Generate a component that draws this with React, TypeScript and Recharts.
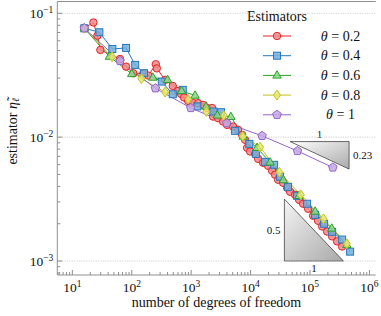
import React from "react";
import { LineChart, Line, XAxis, YAxis, ReferenceLine, ReferenceArea, Legend } from "recharts";

// number of degrees of freedom / estimator values per theta
const dof02 = [15.9, 22.6, 26.4, 29.6, 63.5, 80.2, 106, 157, 190, 254, 264, 364, 490, 601, 676, 759, 887, 1076, 1306, 1586, 1852, 2249, 2337, 2838, 3444, 4021, 5074, 6161, 7194, 8079, 8732, 9814, 11910, 13370, 16230, 19710, 23010, 25830, 29030, 35250, 41120, 46240, 56140, 65500, 76560, 92900, 112800, 136800, 159900, 194000, 235600, 285800, 346800];
const eta02 = [0.0757, 0.0843, 0.066, 0.0506, 0.0428, 0.0371, 0.0328, 0.0328, 0.0314, 0.0388, 0.0359, 0.029, 0.0259, 0.0236, 0.0223, 0.0209, 0.0196, 0.0189, 0.0188, 0.0182, 0.0172, 0.0172, 0.01466, 0.01422, 0.01336, 0.01256, 0.01218, 0.01146, 0.01044, 0.00951, 0.0082, 0.00766, 0.00733, 0.00668, 0.00621, 0.00587, 0.00535, 0.00497, 0.00453, 0.00428, 0.0039, 0.00362, 0.00343, 0.00312, 0.0029, 0.00264, 0.00232, 0.00211, 0.0019, 0.00173, 0.00158, 0.00144, 0.00131];

const dof04 = [15.9, 28.5, 47.1, 80.2, 114, 161, 320, 490, 722, 1271, 2365, 3187, 5483, 9550, 12380, 17540, 24880, 31390, 42760, 60670, 89340, 121900, 172700, 235600, 346800, 473200];
const eta04 = [0.0757, 0.0703, 0.0515, 0.0525, 0.0383, 0.0328, 0.0281, 0.0222, 0.0241, 0.0177, 0.0161, 0.0159, 0.01124, 0.00883, 0.00733, 0.00632, 0.00598, 0.00479, 0.00397, 0.00336, 0.0029, 0.00236, 0.002, 0.00172, 0.00149, 0.00119];

const dof06 = [15.9, 42, 100, 226, 401, 689, 1163, 1782, 2761, 4659, 7566, 12850, 21290, 35650, 65500, 121900, 232800, 416600];
const eta06 = [0.0757, 0.0447, 0.0324, 0.0303, 0.029, 0.0236, 0.0217, 0.0177, 0.015, 0.01459, 0.01011, 0.0082, 0.00626, 0.0045, 0.00336, 0.00251, 0.00183, 0.00135];

const dof08 = [15.9, 46.6, 145, 364, 897, 1803, 3540, 7392, 14450, 30550, 69980, 168200, 416600];
const eta08 = [0.0757, 0.0445, 0.0297, 0.0231, 0.0202, 0.0161, 0.0149, 0.01015, 0.0083, 0.0052, 0.00343, 0.00219, 0.00138];

const dof10 = [15.9, 63.5, 250, 985, 3975, 15620, 61380, 242100];
const eta10 = [0.0757, 0.0412, 0.0248, 0.0172, 0.01297, 0.01024, 0.00773, 0.00569];

const thetaLabels = ["0.2", "0.4", "0.6", "0.8", "1"];

// slope triangles
const slopeUpper = { x1: 46240, x2: 455000, y1: 0.00921, y2: 0.00552, rise: "0.23", run: "1" };
const slopeLower = { x1: 37070, x2: 364800, y1: 0.003162, y2: 0.001, rise: "0.5", run: "1" };

const Y_MAJOR = [0.001, 0.01, 0.1];
const X_DOMAIN = [5.58, 1276000];
const Y_DOMAIN = [0.000771, 0.1245];

const minorTicks = (lo: number, hi: number) => {
  const out: number[] = [];
  for (let e = -4; e <= 6; e++) {
    for (let m = 1; m <= 9; m++) {
      const v = m * Math.pow(10, e);
      if (v >= lo && v <= hi) out.push(v);
    }
  }
  return out;
};
const xTicks = minorTicks(X_DOMAIN[0], X_DOMAIN[1]);
const yTicks = minorTicks(Y_DOMAIN[0], Y_DOMAIN[1]);

const FONT = "'Liberation Serif', serif";
const AXIS = "#8f8f8f";
const INK = "#111";

const isMajor = (v: number) => Math.abs(Math.log10(v) - Math.round(Math.log10(v))) < 1e-6;
const expOf = (v: number) => {
  const e = Math.round(Math.log10(v));
  return e < 0 ? "\u2212" + Math.abs(e) : String(e);
};

const SERIES = [
  { dof: dof02, eta: eta02, shape: "circle", stroke: "#e0262b", fill: "#f2898b" },
  { dof: dof04, eta: eta04, shape: "square", stroke: "#2878bd", fill: "#74aedc" },
  { dof: dof06, eta: eta06, shape: "triangle", stroke: "#2ca02c", fill: "#8fd88f" },
  { dof: dof08, eta: eta08, shape: "diamond", stroke: "#c2c21f", fill: "#e8e872" },
  { dof: dof10, eta: eta10, shape: "pentagon", stroke: "#9466c6", fill: "#c3a8e4" },
];

function Marker({ shape, cx, cy, stroke, fill }: any) {
  const common = { stroke, fill, fillOpacity: 0.85, strokeWidth: 1 };
  if (cx == null || cy == null) return null;
  switch (shape) {
    case "circle":
      return <circle cx={cx} cy={cy} r={3.7} {...common} />;
    case "square":
      return <rect x={cx - 3.5} y={cy - 3.5} width={7} height={7} {...common} />;
    case "triangle":
      return <polygon points={`${cx},${cy - 4.7} ${cx - 4.2},${cy + 2.7} ${cx + 4.2},${cy + 2.7}`} {...common} />;
    case "diamond":
      return <polygon points={`${cx},${cy - 4.9} ${cx + 3.5},${cy} ${cx},${cy + 4.9} ${cx - 3.5},${cy}`} {...common} />;
    default: {
      const pts = [0, 1, 2, 3, 4]
        .map((k) => {
          const a = (-90 + 72 * k) * (Math.PI / 180);
          return `${cx + 4.5 * Math.cos(a)},${cy + 4.5 * Math.sin(a)}`;
        })
        .join(" ");
      return <polygon points={pts} {...common} />;
    }
  }
}

const BottomTick = ({ x, y, payload }: any) => {
  const major = isMajor(payload.value);
  return (
    <g>
      <line x1={x} x2={x} y1={y} y2={y - (major ? 5 : 3)} stroke={AXIS} />
      {major && (
        <text x={x} y={y + 17} textAnchor="middle" fontFamily={FONT} fontSize={13.5} fill={INK}>
          10<tspan dy={-5} fontSize={9.5}>{expOf(payload.value)}</tspan>
        </text>
      )}
    </g>
  );
};

const TopTick = ({ x, y, payload }: any) => {
  const major = isMajor(payload.value);
  return <line x1={x} x2={x} y1={y} y2={y + (major ? 5 : 3)} stroke={AXIS} />;
};

const LeftTick = ({ x, y, payload }: any) => {
  const major = isMajor(payload.value);
  return (
    <g>
      <line x1={x} x2={x + (major ? 5 : 3)} y1={y} y2={y} stroke={AXIS} />
      {major && (
        <text x={x - 4} y={y + 4.5} textAnchor="end" fontFamily={FONT} fontSize={13.5} fill={INK}>
          10<tspan dy={-5} fontSize={9.5}>{expOf(payload.value)}</tspan>
        </text>
      )}
    </g>
  );
};

const RightTick = ({ x, y, payload }: any) => {
  const major = isMajor(payload.value);
  return <line x1={x} x2={x - (major ? 5 : 3)} y1={y} y2={y} stroke={AXIS} />;
};

const UpperTriangle = ({ x, y, width, height }: any) => (
  <g>
    <defs>
      <linearGradient id="triUp" x1="0" y1="0" x2="1" y2="1">
        <stop offset="0%" stopColor="#ffffff" />
        <stop offset="100%" stopColor="#a9a9a9" />
      </linearGradient>
    </defs>
    <polygon points={`${x},${y} ${x + width},${y} ${x + width},${y + height}`} fill="url(#triUp)" stroke="#444" strokeWidth={0.8} />
    <text x={x + width / 2} y={y - 4} textAnchor="middle" fontFamily={FONT} fontSize={11} fill={INK}>{slopeUpper.run}</text>
    <text x={x + width + 4} y={y + height / 2 + 4} textAnchor="start" fontFamily={FONT} fontSize={11} fill={INK}>{slopeUpper.rise}</text>
  </g>
);

const LowerTriangle = ({ x, y, width, height }: any) => (
  <g>
    <defs>
      <linearGradient id="triLow" x1="0" y1="0" x2="1" y2="1">
        <stop offset="0%" stopColor="#f4f4f4" />
        <stop offset="100%" stopColor="#a9a9a9" />
      </linearGradient>
    </defs>
    <polygon points={`${x},${y} ${x},${y + height} ${x + width},${y + height}`} fill="url(#triLow)" stroke="#444" strokeWidth={0.8} />
    <text x={x - 4} y={y + height / 2 + 4} textAnchor="end" fontFamily={FONT} fontSize={11} fill={INK}>{slopeLower.rise}</text>
    <text x={x + width / 2} y={y + height + 11} textAnchor="middle" fontFamily={FONT} fontSize={11} fill={INK}>{slopeLower.run}</text>
  </g>
);

const LegendBox = () => (
  <svg width={136} height={125} style={{ display: "block" }}>
    <text x={32} y={21} textAnchor="middle" fontFamily={FONT} fontSize={14} fill={INK}>Estimators</text>
    {SERIES.map((s, i) => {
      const cy = 36 + i * 19.7;
      return (
        <g key={i}>
          <line x1={18} x2={46} y1={cy} y2={cy} stroke={s.stroke} strokeWidth={1} />
          <Marker shape={s.shape} cx={32} cy={cy} stroke={s.stroke} fill={s.fill} />
          <text x={95.5} y={cy + 4.5} textAnchor="middle" fontFamily={FONT} fontSize={14} fill={INK}>
            <tspan fontStyle="italic">θ</tspan>
            <tspan dx={3.5}>=</tspan>
            <tspan dx={3.5}>{thetaLabels[i]}</tspan>
          </text>
        </g>
      );
    })}
  </svg>
);

const YLabel = ({ viewBox }: any) => {
  const cx = (viewBox?.x ?? 0) + 12;
  const cy = (viewBox?.y ?? 0) + (viewBox?.height ?? 0) / 2 - 7;
  return (
    <text x={cx} y={cy} transform={`rotate(-90, ${cx}, ${cy})`} textAnchor="middle" dominantBaseline="central" fontFamily={FONT} fontSize={14} fill={INK}>
      estimator <tspan fontStyle="italic">η̃</tspan>
      <tspan fontStyle="italic" fontSize={10} dy={3}>ℓ</tspan>
    </text>
  );
};

const XLabel = ({ viewBox }: any) => {
  const cx = (viewBox?.x ?? 0) + (viewBox?.width ?? 0) / 2;
  const y = (viewBox?.y ?? 0) + 32;
  return (
    <text x={cx} y={y} textAnchor="middle" fontFamily={FONT} fontSize={14} fill={INK}>
      number of degrees of freedom
    </text>
  );
};

export default function App() {
  const seriesData = SERIES.map((s) => s.dof.map((d, i) => ({ dof: d, eta: s.eta[i] })));
  return (
    <div style={{ position: "absolute", left: 0, top: 0, width: 381, height: 316, background: "#fff" }}>
      <LineChart width={381} height={316} margin={{ top: 0, right: 5.3, bottom: 0, left: 0 }}>
        <XAxis
          xAxisId="x"
          type="number"
          dataKey="dof"
          scale="log"
          domain={X_DOMAIN}
          allowDataOverflow
          ticks={xTicks}
          interval={0}
          tick={<BottomTick />}
          tickLine={false}
          tickSize={0}
          tickMargin={0}
          height={41}
          axisLine={{ stroke: AXIS }}
          label={<XLabel />}
        />
        <XAxis
          xAxisId="top"
          orientation="top"
          type="number"
          scale="log"
          domain={X_DOMAIN}
          allowDataOverflow
          ticks={xTicks}
          interval={0}
          tick={<TopTick />}
          tickLine={false}
          tickSize={0}
          tickMargin={0}
          height={1.5}
          axisLine={{ stroke: AXIS }}
        />
        <YAxis
          yAxisId="y"
          type="number"
          dataKey="eta"
          scale="log"
          domain={Y_DOMAIN}
          allowDataOverflow
          ticks={yTicks}
          interval={0}
          tick={<LeftTick />}
          tickLine={false}
          tickSize={0}
          tickMargin={0}
          width={57.3}
          axisLine={{ stroke: AXIS }}
          label={<YLabel />}
        />
        <YAxis
          yAxisId="right"
          orientation="right"
          type="number"
          scale="log"
          domain={Y_DOMAIN}
          allowDataOverflow
          ticks={yTicks}
          interval={0}
          tick={<RightTick />}
          tickLine={false}
          tickSize={0}
          tickMargin={0}
          width={0}
          axisLine={{ stroke: AXIS }}
        />
        {Y_MAJOR.map((v) => (
          <ReferenceLine key={v} xAxisId="x" yAxisId="y" y={v} stroke="#c4c4c4" strokeDasharray="1.2 1.2" strokeWidth={0.8} />
        ))}
        <ReferenceArea
          xAxisId="x"
          yAxisId="y"
          x1={slopeUpper.x1}
          x2={slopeUpper.x2}
          y1={slopeUpper.y1}
          y2={slopeUpper.y2}
          shape={(p: any) => <UpperTriangle {...p} />}
        />
        <ReferenceArea
          xAxisId="x"
          yAxisId="y"
          x1={slopeLower.x1}
          x2={slopeLower.x2}
          y1={slopeLower.y1}
          y2={slopeLower.y2}
          shape={(p: any) => <LowerTriangle {...p} />}
        />
        {SERIES.map((s, i) => (
          <Line
            key={i}
            xAxisId="x"
            yAxisId="y"
            data={seriesData[i]}
            dataKey="eta"
            type="linear"
            stroke={s.stroke}
            strokeWidth={1}
            isAnimationActive={false}
            dot={(p: any) => <Marker key={p.index} shape={s.shape} cx={p.cx} cy={p.cy} stroke={s.stroke} fill={s.fill} />}
            activeDot={false}
          />
        ))}
        <Legend
          layout="vertical"
          align="center"
          verticalAlign="middle"
          content={() => <LegendBox />}
          wrapperStyle={{ position: "absolute", left: 245, top: 0, width: 136, height: 125, margin: 0, padding: 0 }}
        />
      </LineChart>
    </div>
  );
}
